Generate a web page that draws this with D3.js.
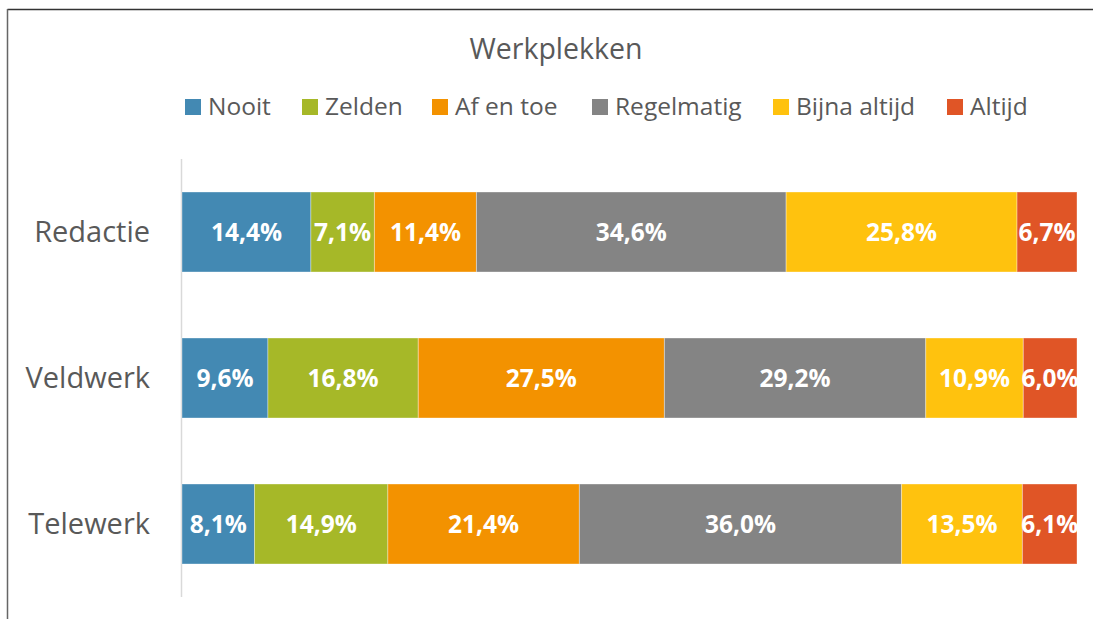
<!DOCTYPE html>
<html>
<head>
<meta charset="utf-8">
<script src="https://cdn.jsdelivr.net/npm/d3@7"></script>
<style>
	body { margin: 0; background: #fff; }
	svg { display: block; }
</style>
</head>
<body>
<div id="chart"></div>
<script>
var categories = ["Redactie", "Veldwerk", "Telewerk"],
	seriesNames = ["Nooit", "Zelden", "Af en toe", "Regelmatig", "Bijna altijd", "Altijd"],
	seriesColors = ["#4389B3", "#A6B828", "#F39200", "#848484", "#FFC20E", "#E05526"];

var nooit      = [14.4, 9.6, 8.1],
	zelden     = [7.1, 16.8, 14.9],
	afEnToe    = [11.4, 27.5, 21.4],
	regelmatig = [34.6, 29.2, 36.0],
	bijnaAltijd = [25.8, 10.9, 13.5],
	altijd     = [6.7, 6.0, 6.1];

var seriesValues = [nooit, zelden, afEnToe, regelmatig, bijnaAltijd, altijd]

var w = 1093, h = 619,
	fontFam = "'Open Sans', 'Noto Sans', sans-serif",
	textGrey = "#595959";

var svg = d3.select("#chart").append("svg")
	.attr("width", w)
	.attr("height", h)

// frame of the chart (cropped: only top and left visible)
svg.append("line").attr("x1", 7.5).attr("x2", w).attr("y1", 9.5).attr("y2", 9.5)
	.attr("stroke", "#333").attr("stroke-width", 1.5)
svg.append("line").attr("x1", 7.5).attr("x2", 7.5).attr("y1", 9).attr("y2", h)
	.attr("stroke", "#666").attr("stroke-width", 1.5)

svg.append("text")
	.attr("x", 556).attr("y", 59)
	.attr("text-anchor", "middle")
	.attr("font-family", fontFam).attr("font-size", 28.5)
	.attr("fill", textGrey)
	.text("Werkplekken")

// legend
var legendX = [185, 302, 432, 592, 773, 947]
var legend = svg.selectAll(".legend")
	.data(seriesNames)
	.enter().append("g")
	.attr("class", "legend")
	.attr("transform", function(d, i) { return "translate(" + legendX[i] + ",0)" })
legend.append("rect")
	.attr("x", 0).attr("y", 99).attr("width", 16).attr("height", 16)
	.attr("fill", function(d, i) { return seriesColors[i] })
legend.append("text")
	.attr("x", 23).attr("y", 115)
	.attr("font-family", fontFam).attr("font-size", 24.5)
	.attr("fill", textGrey)
	.text(function(d) { return d })

// scales
var x = d3.scaleLinear().domain([0, 100]).range([182, 1077])
var y = d3.scaleBand().domain(categories).range([159, 597]).paddingInner(0.4521).paddingOuter(0.226)

svg.append("line")
	.attr("x1", 181.5).attr("x2", 181.5).attr("y1", 159).attr("y2", 597)
	.attr("stroke", "#d9d9d9").attr("stroke-width", 1.5)

svg.selectAll(".catLabel")
	.data(categories)
	.enter().append("text")
	.attr("class", "catLabel")
	.attr("x", 150)
	.attr("y", function(d) { return y(d) + y.bandwidth() / 2 + 10 })
	.attr("text-anchor", "end")
	.attr("font-family", fontFam).attr("font-size", 29)
	.attr("fill", textGrey)
	.text(function(d) { return d })

// stacked segments
var segs = []
categories.forEach(function(cat, ci) {
	var acc = 0
	seriesValues.forEach(function(vals, si) {
		segs.push({ cat: cat, si: si, x0: acc, x1: acc + vals[ci], v: vals[ci] })
		acc += vals[ci]
	})
})

svg.selectAll(".seg")
	.data(segs)
	.enter().append("rect")
	.attr("class", "seg")
	.attr("x", function(d) { return x(d.x0) })
	.attr("y", function(d) { return y(d.cat) })
	.attr("width", function(d) { return x(d.x1) - x(d.x0) })
	.attr("height", y.bandwidth())
	.attr("fill", function(d) { return seriesColors[d.si] })
	.attr("stroke", "#fff").attr("stroke-opacity", 0.35).attr("stroke-width", 1)

svg.selectAll(".segLabel")
	.data(segs)
	.enter().append("text")
	.attr("class", "segLabel")
	.attr("x", function(d) { return (x(d.x0) + x(d.x1)) / 2 })
	.attr("y", function(d) { return y(d.cat) + y.bandwidth() / 2 + 9 })
	.attr("text-anchor", "middle")
	.attr("font-family", fontFam).attr("font-size", 24.5).attr("font-weight", "bold")
	.attr("fill", "#fff")
	.text(function(d) { return d.v.toFixed(1).replace(".", ",") + "%" })
</script>
</body>
</html>
